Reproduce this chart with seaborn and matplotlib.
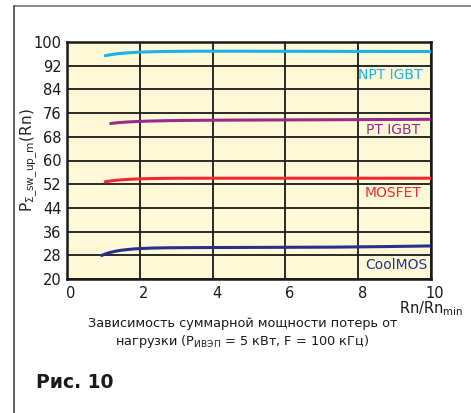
import matplotlib
matplotlib.use("Agg")
import matplotlib.pyplot as plt
from matplotlib.lines import Line2D
from matplotlib.transforms import ScaledTranslation
import numpy as np
import pandas as pd
import seaborn as sns

# Load-dependence of total loss power for four switch types
npt_x = [1.05, 1.5, 2, 3, 4, 6, 8, 10]
npt_y = [95.4, 96.1, 96.6, 96.9, 96.9, 96.8, 96.8, 96.8]
pt_x = [1.2, 2, 3, 4, 6, 8, 10]
pt_y = [72.5, 73.2, 73.5, 73.6, 73.7, 73.8, 73.9]
mos_x = [1.05, 1.5, 2, 3, 4, 6, 8, 10]
mos_y = [52.8, 53.5, 53.8, 54.0, 54.0, 54.0, 54.0, 54.0]
cool_x = [0.95, 1.1, 1.4, 2, 3, 4, 6, 8, 10]
cool_y = [27.8, 28.8, 29.6, 30.2, 30.5, 30.6, 30.7, 30.9, 31.1]

series = ["NPT IGBT", "PT IGBT", "MOSFET", "CoolMOS"]
colors = ["#1ab2e8", "#9c2a8e", "#ee2a30", "#2b2f8c"]

x_ticks = [0, 2, 4, 6, 8, 10]
y_ticks = [20, 28, 36, 44, 52, 60, 68, 76, 84, 92, 100]

# where each curve's name sits inside the plot (right edge x, centre y)
label_pos = [(9.78, 88.9), (9.7, 70.3), (9.73, 49.0), (9.9, 24.7)]

frames = []
for name, xs, ys in zip(series, [npt_x, pt_x, mos_x, cool_x],
                        [npt_y, pt_y, mos_y, cool_y]):
    frames.append(pd.DataFrame({"x": xs, "y": ys, "series": name}))
df = pd.concat(frames, ignore_index=True)

sns.set_style("white")
plt.rcParams["font.family"] = ["DejaVu Sans"]

W, H = 471, 413
fig = plt.figure(figsize=(W / 100, H / 100), dpi=100)
ax = fig.add_axes([67 / W, 1 - 279 / H, (431 - 67) / W, (279 - 42) / H])
ax.set_facecolor("#fdf8d6")

# smooth each curve through its points (cubic in log-x)
for name, col in zip(series, colors):
    sub = df[df.series == name]
    xd = np.linspace(sub.x.min(), sub.x.max(), 200)
    coeff = np.polyfit(np.log(sub.x), sub.y, 3)
    sm = pd.DataFrame({"x": xd, "y": np.polyval(coeff, np.log(xd))})
    sns.lineplot(data=sm, x="x", y="y", ax=ax, color=col, lw=2.2,
                 solid_capstyle="round", zorder=3)

ax.set_xlim(0, 10)
ax.set_ylim(20, 100)
ax.set_xticks(x_ticks)
ax.set_yticks(y_ticks)
ax.set_xticklabels([str(t) for t in x_ticks])
ax.grid(True, color="#1a1a1a", lw=1.3, zorder=0)
ax.set_axisbelow(True)
for s in ax.spines.values():
    s.set_color("#1a1a1a")
    s.set_linewidth(1.8)
ax.tick_params(axis="both", length=0, labelsize=10.5, colors="#1a1a1a")
ax.tick_params(axis="x", pad=5)
ax.tick_params(axis="y", pad=4)
shift = ScaledTranslation(4 / 100, 0, fig.dpi_scale_trans)
for lbl in ax.get_xticklabels():
    lbl.set_transform(lbl.get_transform() + shift)

ax.set_xlabel("")
ax.set_ylabel(r"P$_{\mathrm{\Sigma\_sw\_up\_m}}$(Rn)", fontsize=11)
ax.yaxis.set_label_coords((40 - 67) / 364, 0.5)

for name, col, (lx, ly) in zip(series, colors, label_pos):
    ax.text(lx, ly, name, color=col, fontsize=10, ha="right", va="center")

fig.text(463 / W, 1 - 309 / H, r"Rn/Rn$_{\mathrm{min}}$", fontsize=10.5,
         ha="right", va="center", color="#1a1a1a")
fig.text(243 / W, 1 - 323 / H, "Зависимость суммарной мощности потерь от",
         fontsize=9.3, ha="center", va="center", color="#1a1a1a")
fig.text(242 / W, 1 - 342 / H,
         r"нагрузки (P$_{\mathrm{ИВЭП}}$ = 5 кВт, F = 100 кГц)",
         fontsize=9.3, ha="center", va="center", color="#1a1a1a")
fig.text(36 / W, 1 - 382 / H, "Рис. 10", fontsize=13.5, fontweight="bold",
         ha="left", va="center", color="#1a1a1a")

# open frame around the figure
fig.add_artist(Line2D([14 / W, 1], [1 - 6 / H, 1 - 6 / H], color="#777777",
                      lw=1.2, transform=fig.transFigure))
fig.add_artist(Line2D([14 / W, 14 / W], [0, 1 - 6 / H], color="#444444",
                      lw=1.2, transform=fig.transFigure))

fig.savefig("out.png", dpi=100, facecolor="white")
